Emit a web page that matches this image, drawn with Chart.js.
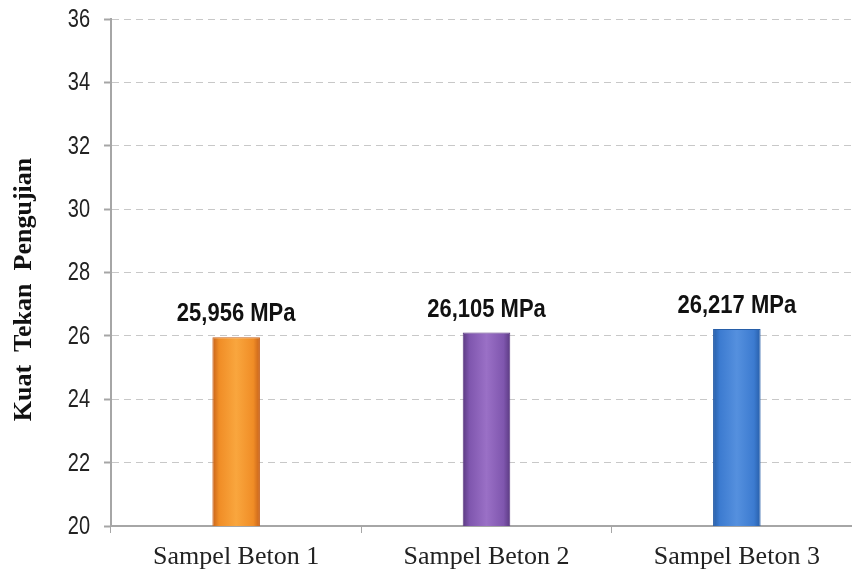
<!DOCTYPE html>
<html>
<head>
<meta charset="utf-8">
<script src="https://cdn.jsdelivr.net/npm/chart.js"></script>
<style>
  html, body { margin: 0; padding: 0; background: #fff; overflow: hidden; }
  #wrap { width: 862px; height: 573px; }
</style>
</head>
<body>
<div id="wrap"><canvas id="chart"></canvas></div>
<script>
const categories = ['Sampel Beton 1', 'Sampel Beton 2', 'Sampel Beton 3'];
const strengths = [25.956, 26.105, 26.217];
const valueLabels = ['25,956 MPa', '26,105 MPa', '26,217 MPa'];
const yTicks = [20, 22, 24, 26, 28, 30, 32, 34, 36];
const yTitle = 'Kuat  Tekan  Pengujian';

// edge / light / mid colours for each bar
const barTones = [
  ['#c7621a', '#f9a63e', '#f08d26'],
  ['#5b3a82', '#9a70c6', '#7f56ae'],
  ['#275ea8', '#5590de', '#3c7bd0']
];

const sans = "'Liberation Sans', Arial, sans-serif";
const serif = "'Liberation Serif', 'Times New Roman', serif";

function barFill(ctx) {
  const chart = ctx.chart;
  const area = chart.chartArea;
  const tones = barTones[ctx.dataIndex];
  if (!area || !chart.scales.x) return tones[2];
  const cx = chart.scales.x.getPixelForValue(ctx.dataIndex);
  const half = (area.right - area.left) / categories.length * 0.19 / 2;
  const g = chart.ctx.createLinearGradient(cx - half, 0, cx + half, 0);
  g.addColorStop(0, tones[0]);
  g.addColorStop(0.14, tones[2]);
  g.addColorStop(0.5, tones[1]);
  g.addColorStop(0.86, tones[2]);
  g.addColorStop(1, tones[0]);
  return g;
}

// text drawn squeezed sideways to mimic the narrow font of the original
function narrowText(ctx, text, x, y, squeeze) {
  ctx.save();
  ctx.translate(x, y);
  ctx.scale(squeeze, 1);
  ctx.fillText(text, 0, 0);
  ctx.restore();
}

const textPlugin = {
  id: 'texts',
  afterDraw(chart) {
    const ctx = chart.ctx;
    const area = chart.chartArea;
    const yScale = chart.scales.y;

    // y tick labels
    ctx.save();
    ctx.font = "25px " + sans;
    ctx.fillStyle = '#222';
    ctx.textAlign = 'right';
    ctx.textBaseline = 'middle';
    yTicks.forEach(v => {
      narrowText(ctx, String(v), 90, yScale.getPixelForValue(v) + 1, 0.8);
    });
    ctx.restore();

    // value labels above the bars
    const meta = chart.getDatasetMeta(0);
    ctx.save();
    ctx.font = "bold 25px " + sans;
    ctx.fillStyle = '#111';
    ctx.textAlign = 'center';
    ctx.textBaseline = 'alphabetic';
    meta.data.forEach((bar, i) => {
      narrowText(ctx, valueLabels[i], bar.x, bar.y - 16, 0.88);
    });
    ctx.restore();

    // y axis title
    ctx.save();
    ctx.font = "bold 26px " + serif;
    ctx.fillStyle = '#111';
    ctx.textAlign = 'center';
    ctx.textBaseline = 'middle';
    ctx.translate(24, (area.top + area.bottom) / 2 + 17);
    ctx.rotate(-Math.PI / 2);
    ctx.fillText(yTitle, 0, 0);
    ctx.restore();
  }
};

new Chart(document.getElementById('chart'), {
  type: 'bar',
  data: {
    labels: categories,
    datasets: [{
      data: strengths,
      backgroundColor: barFill,
      borderColor: barTones.map(t => t[0]),
      borderWidth: 1,
      categoryPercentage: 1,
      barPercentage: 0.19
    }]
  },
  options: {
    responsive: true,
    maintainAspectRatio: false,
    animation: false,
    layout: { padding: { top: 19, right: 0, bottom: 0, left: 0 } },
    plugins: {
      legend: { display: false },
      tooltip: { enabled: false }
    },
    scales: {
      x: {
        afterFit(scale) { scale.height = 47; },
        grid: {
          offset: true,
          drawOnChartArea: false,
          tickLength: 7,
          tickColor: '#a6a6a6',
          tickWidth: 1
        },
        border: { color: '#a6a6a6', width: 2 },
        ticks: {
          color: '#222',
          padding: 9,
          font: { family: serif, size: 26 }
        }
      },
      y: {
        min: 20,
        max: 36,
        afterFit(scale) { scale.width = 111; },
        ticks: {
          stepSize: 2,
          display: false
        },
        grid: {
          color: '#c8c8c8',
          lineWidth: 1,
          tickLength: 7,
          tickColor: '#a6a6a6',
          tickBorderDash: [],
          tickWidth: 2
        },
        border: { color: '#a6a6a6', width: 2, dash: [7, 5] }
      }
    }
  },
  plugins: [textPlugin]
});
</script>
</body>
</html>
